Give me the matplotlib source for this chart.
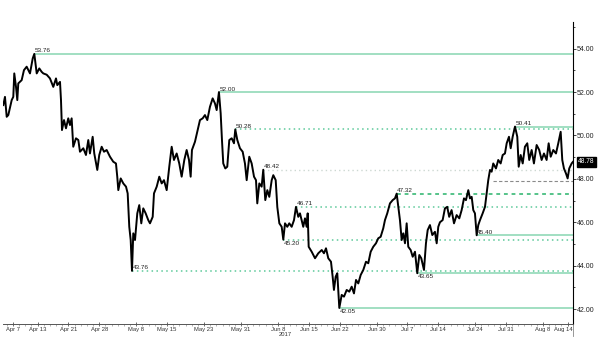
"""
WTI crude, hourly closes Apr-Aug 2017, with support / resistance levels.
Values read off the reference chart.
"""
import numpy as np
import pandas as pd
import matplotlib
matplotlib.use('Agg')
import matplotlib.pyplot as plt
import matplotlib.transforms as mtransforms
from matplotlib.ticker import FixedLocator, MultipleLocator, FormatStrFormatter

plt.rcParams['font.family'] = ['Liberation Sans', 'DejaVu Sans']

# ── Data ──────────────────────────────────────────────────────────────────────

# x = trading-session index (0 = Apr 3 2017, Good Friday closed)
session_pos = [
    2.43, 2.70, 2.98, 3.24, 3.79, 4.05, 4.21, 4.49, 4.70, 4.86,
    5.41, 5.78, 6.22, 6.76, 7.20, 7.46, 7.85, 8.27, 8.66, 8.92,
    9.47, 10.00, 10.54, 10.98, 11.19, 11.63, 11.79, 11.95, 12.28, 12.60,
    12.97, 13.25, 13.52, 13.78, 14.22, 14.60, 14.87, 15.41, 15.84, 16.22,
    16.49, 16.93, 17.19, 17.68, 18.00, 18.39, 18.77, 19.20, 19.74, 20.27,
    20.71, 20.92, 21.09, 21.48, 21.90, 22.34, 22.61, 22.87, 23.10, 23.31,
    23.52, 23.80, 24.17, 24.49, 24.82, 25.14, 25.53, 25.95, 26.23, 26.67,
    26.88, 27.32, 27.74, 28.13, 28.50, 28.94, 29.36, 29.75, 30.12, 30.56,
    30.98, 31.37, 31.80, 32.18, 32.56, 32.83, 33.04, 33.53, 33.90, 34.34,
    34.78, 35.15, 35.53, 35.96, 36.40, 36.77, 37.05, 37.42, 37.70, 37.91,
    38.12, 38.45, 38.77, 39.10, 39.49, 39.86, 40.07, 40.40, 40.83, 41.27,
    41.64, 41.92, 42.34, 42.73, 43.11, 43.43, 43.64, 43.97, 44.35, 44.61,
    44.94, 45.27, 45.59, 45.98, 46.24, 46.63, 46.89, 47.22, 47.60, 47.86,
    48.14, 48.51, 48.83, 49.22, 49.60, 49.92, 50.29, 50.57, 51.10, 51.38,
    51.65, 51.82, 51.98, 52.47, 53.01, 53.54, 54.10, 54.46, 54.79, 55.16,
    55.60, 55.87, 56.08, 56.36, 56.62, 56.95, 57.34, 57.71, 58.15, 58.57,
    58.96, 59.33, 59.66, 60.03, 60.42, 60.84, 61.28, 61.65, 62.04, 62.46,
    62.90, 63.27, 63.66, 64.08, 64.36, 64.73, 65.17, 65.61, 65.98, 66.26,
    66.52, 66.79, 67.07, 67.33, 67.61, 67.88, 68.14, 68.53, 68.86, 69.23,
    69.60, 69.93, 70.25, 70.69, 71.01, 71.29, 71.66, 72.04, 72.47, 72.75,
    73.01, 73.28, 73.72, 74.09, 74.46, 74.78, 75.17, 75.56, 75.99, 76.42,
    76.80, 77.18, 77.50, 77.88, 78.15, 78.43, 78.69, 78.96, 79.24, 79.50,
    79.78, 80.21, 80.59, 80.86, 81.12, 81.40, 81.67, 81.93, 82.37, 82.74,
    83.13, 83.46, 83.83, 84.11, 84.48, 84.76, 85.08, 85.46, 85.83, 86.06,
    86.38, 86.71, 87.07, 87.45, 87.77, 88.16, 88.53, 88.97, 89.39, 89.78,
    90.16, 90.59, 90.92, 91.25, 91.67, 92.11, 92.48, 92.87, 93.13, 93.40,
    93.73, 94.00, 94.26, 94.65, 94.85,
]

price = [
    51.40, 51.78, 50.86, 50.94, 51.63, 51.78, 52.86, 52.24, 51.63, 52.40,
    52.55, 53.01, 53.17, 52.86, 53.55, 53.76, 52.86, 53.09, 52.93, 52.86,
    52.80, 52.63, 52.24, 52.63, 52.32, 52.47, 51.63, 50.25, 50.71, 50.33,
    50.79, 50.48, 50.79, 49.48, 49.87, 49.79, 49.25, 49.41, 49.10, 49.79,
    49.17, 49.94, 49.17, 48.41, 49.10, 49.48, 49.25, 49.33, 49.02, 48.79,
    48.71, 48.10, 47.48, 48.02, 47.79, 47.64, 47.33, 45.79, 45.18, 43.76,
    45.49, 45.18, 46.41, 46.79, 45.95, 46.64, 46.41, 46.10, 45.95, 46.25,
    47.33, 47.64, 48.10, 47.79, 47.94, 47.48, 48.56, 49.48, 48.87, 49.17,
    48.71, 48.10, 48.87, 49.33, 48.87, 48.10, 49.33, 49.71, 50.17, 50.71,
    50.79, 50.94, 50.71, 51.32, 51.71, 51.48, 51.17, 52.00, 51.02, 49.79,
    48.71, 48.48, 48.56, 49.79, 49.87, 49.64, 50.28, 49.79, 49.41, 49.25,
    48.71, 47.94, 49.02, 48.71, 48.10, 47.94, 46.87, 47.79, 47.64, 48.42,
    47.02, 47.48, 47.17, 47.94, 48.17, 47.94, 46.70, 45.95, 45.79, 45.20,
    45.95, 45.79, 45.95, 45.79, 46.10, 46.71, 46.25, 46.41, 45.79, 46.18,
    45.79, 46.41, 44.87, 44.64, 44.34, 44.57, 44.72, 44.57, 44.80, 44.34,
    44.18, 43.49, 42.88, 43.49, 43.65, 42.05, 42.65, 42.57, 42.88, 42.80,
    43.03, 42.72, 43.34, 43.18, 43.57, 43.80, 44.18, 44.11, 44.64, 44.87,
    45.03, 45.26, 45.33, 45.72, 46.10, 46.41, 46.87, 47.02, 47.10, 47.32,
    46.71, 46.10, 45.18, 45.49, 45.03, 45.95, 44.87, 44.72, 44.41, 44.64,
    43.65, 44.49, 44.34, 43.80, 45.03, 45.64, 45.87, 45.41, 45.56, 45.03,
    45.79, 46.00, 46.10, 46.64, 46.71, 46.25, 46.56, 45.95, 46.33, 46.18,
    46.56, 47.10, 47.02, 47.48, 47.10, 47.17, 46.56, 46.41, 45.40, 45.87,
    46.10, 46.41, 46.71, 47.33, 47.94, 48.41, 48.33, 48.71, 48.48, 48.87,
    48.71, 49.10, 49.17, 49.64, 49.94, 49.41, 49.94, 50.41, 49.94, 48.56,
    49.10, 48.71, 49.48, 49.64, 48.87, 49.33, 48.71, 49.56, 49.33, 48.87,
    49.17, 48.87, 49.64, 49.02, 49.33, 49.17, 49.64, 50.17, 48.87, 48.48,
    48.25, 48.02, 48.48, 48.71, 48.78,
]

last_price = 48.78

# horizontal levels: value, session where the level starts, style, label side
level_values = [53.76, 52.00, 50.41, 50.28, 48.42, 47.88, 47.32, 46.71, 45.40, 45.20, 43.76, 43.65, 42.05]
level_start  = [7.46, 37.42, 85.46, 40.07, 44.61, 81.90, 66.26, 49.92, 79.24, 47.86, 23.31, 69.60, 56.95]
level_kind   = ['solid', 'solid', 'solid', 'dotted', 'faint', 'trend', 'dashed',
                'dotted', 'solid', 'dotted', 'dotted', 'solid', 'solid']
level_label  = ['above', 'above', 'above', 'above', 'above', None, 'above',
                'above', 'above', 'below', 'above', 'below', 'below']

tick_dates  = ['2017-04-07', '2017-04-13', '2017-04-21', '2017-04-28', '2017-05-08',
               '2017-05-15', '2017-05-23', '2017-05-31', '2017-06-08', '2017-06-15',
               '2017-06-22', '2017-06-30', '2017-07-07', '2017-07-14', '2017-07-24',
               '2017-07-31', '2017-08-08', '2017-08-14']
tick_labels = ['Apr 7', 'Apr 13', 'Apr 21', 'Apr 28', 'May 8', 'May 15', 'May 23',
               'May 31', 'Jun 8', 'Jun 15', 'Jun 22', 'Jun 30', 'Jul 7', 'Jul 14',
               'Jul 24', 'Jul 31', 'Aug 8', 'Aug 14']

# trading sessions (Good Friday closed)
sessions = pd.bdate_range('2017-04-03', '2017-08-31').drop(pd.Timestamp('2017-04-14'))
tick_pos = [sessions.get_loc(pd.Timestamp(d)) for d in tick_dates]

# ── Styles ────────────────────────────────────────────────────────────────────

STYLES = {
    'solid':  dict(color='#9adcbd', lw=1.3, ls='-'),
    'dotted': dict(color='#5cc99a', lw=1.1, ls=(0, (1, 2.2))),
    'dashed': dict(color='#27b36a', lw=1.1, ls=(0, (2.5, 2.5))),
    'faint':  dict(color='#cdd8d2', lw=1.0, ls=(0, (1, 2.2))),
    'trend':  dict(color='#8a8a8a', lw=0.8, ls=(0, (3, 2))),
}

X_MIN, X_MAX = 2.38, 94.87
Y_MIN, Y_MAX = 41.31, 55.23

# ── Plot ──────────────────────────────────────────────────────────────────────

fig = plt.figure(figsize=(6, 3.52), dpi=100)
ax = fig.add_axes([3 / 600, 28 / 352, 570 / 600, 302 / 352])

for val, start, kind, side in zip(level_values, level_start, level_kind, level_label):
    st = STYLES[kind]
    ax.hlines(val, start, X_MAX, colors=st['color'], linewidth=st['lw'],
              linestyles=[st['ls']], zorder=1)
    if side is None:
        continue
    dy = 0.3 if side == 'above' else -0.8
    ax.annotate(f'{val:.2f}', xy=(start, val), xytext=(0.3, dy),
                textcoords='offset points', fontsize=4.6, color='#222222',
                ha='left', va='bottom' if side == 'above' else 'top', zorder=4)

ax.plot(session_pos, price, color='black', linewidth=1.4, zorder=3)

ax.set_xlim(X_MIN, X_MAX)
ax.set_ylim(Y_MIN, Y_MAX)

# x axis
ax.xaxis.set_major_locator(FixedLocator(tick_pos))
ax.xaxis.set_minor_locator(MultipleLocator(1))
ax.set_xticklabels(tick_labels)
ax.tick_params(axis='x', which='major', direction='inout', length=3, width=0.5,
               labelsize=4.2, pad=0.8, colors='#333333')
ax.tick_params(axis='x', which='minor', direction='out', length=1.2, width=0.4,
               colors='#777777')
# last label sits against the price axis, nudge it left
last_lbl = ax.get_xticklabels()[-1]
last_lbl.set_transform(last_lbl.get_transform() +
                       mtransforms.ScaledTranslation(-4 / 100, 0, fig.dpi_scale_trans))
ax.annotate('2017', xy=(tick_pos[tick_labels.index('Jun 8')], 0),
            xycoords=('data', 'axes fraction'), xytext=(5, -7.6),
            textcoords='offset points', fontsize=4.2, color='#333333',
            ha='center', va='center', annotation_clip=False)

# y axis on the right
ax.yaxis.tick_right()
ax.yaxis.set_major_locator(MultipleLocator(2))
ax.yaxis.set_minor_locator(MultipleLocator(1))
ax.yaxis.set_major_formatter(FormatStrFormatter('%.2f'))
ax.tick_params(axis='y', which='major', direction='out', length=2, width=0.6,
               labelsize=5, pad=1, colors='#222222')
ax.tick_params(axis='y', which='minor', direction='out', length=1.5, width=0.5)

for side in ('left', 'top'):
    ax.spines[side].set_visible(False)
ax.spines['right'].set_linewidth(0.8)
ax.spines['bottom'].set_linewidth(0.7)
ax.spines['bottom'].set_color('#555555')
# price axis runs a little below the time axis
ax.plot([1, 1], [0, -0.04], transform=ax.transAxes, color='#888888',
        linewidth=0.6, clip_on=False)

# last price tag
ax.annotate(f'{last_price:.2f}', xy=(1, last_price), xycoords=('axes fraction', 'data'),
            xytext=(3.5, 0), textcoords='offset points', fontsize=4.8, color='white',
            ha='left', va='center', annotation_clip=False,
            bbox=dict(boxstyle='square,pad=0.2', fc='black', ec='black'))

fig.savefig('out.png', dpi=100)
